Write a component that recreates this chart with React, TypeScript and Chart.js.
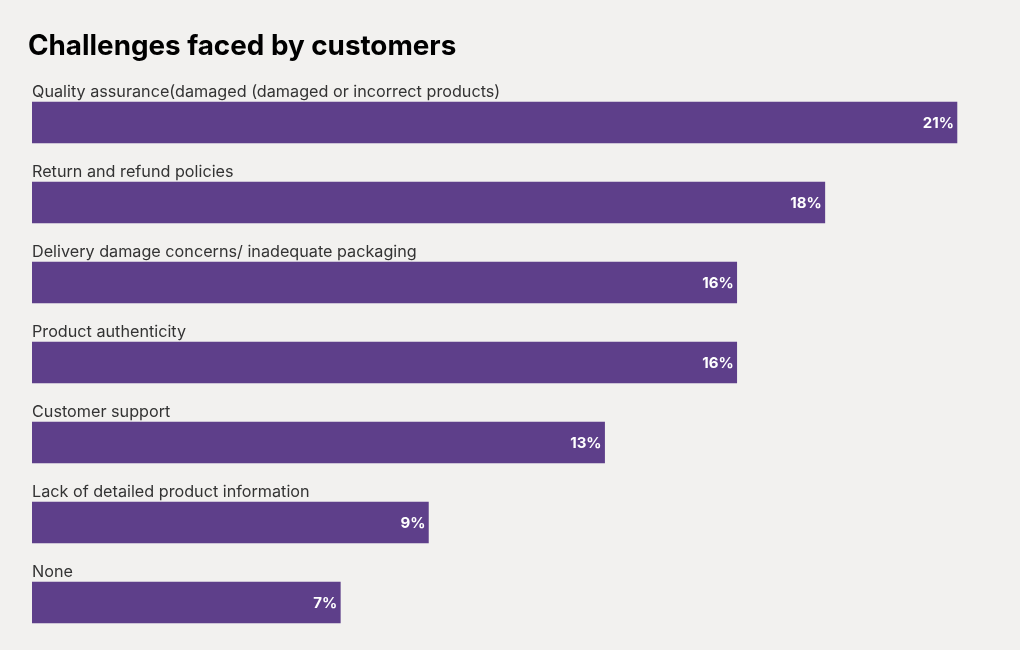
import React, { useEffect, useRef } from "react";
import { Chart, registerables } from "chart.js";

Chart.register(...registerables);

const TITLE = "Challenges faced by customers";
const categories = [
  "Quality assurance(damaged (damaged or incorrect products)",
  "Return and refund policies",
  "Delivery damage concerns/ inadequate packaging",
  "Product authenticity",
  "Customer support",
  "Lack of detailed product information",
  "None",
];
const values = [21, 18, 16, 16, 13, 9, 7];

const BG = "#f2f1ef";
const PURPLE = "#5e3f8a";

export default function App() {
  const ref = useRef<HTMLCanvasElement | null>(null);
  useEffect(() => {
    document.body.style.margin = "0";
    document.body.style.background = BG;
    const canvas = ref.current!;
    const labelPlugin = {
      id: "labels",
      afterDatasetsDraw(chart: any) {
        const ctx = chart.ctx;
        const meta = chart.getDatasetMeta(0);
        ctx.save();
        ctx.fillStyle = "#000";
        ctx.font = "bold 27.8px Inter";
        ctx.textBaseline = "alphabetic";
        ctx.textAlign = "left";
        ctx.fillText(TITLE, 28, 55);
        meta.data.forEach((bar: any, i: number) => {
          const top = bar.y - bar.height / 2;
          ctx.fillStyle = "#333333";
          ctx.font = "16.2px Inter";
          ctx.textAlign = "left";
          ctx.textBaseline = "alphabetic";
          ctx.fillText(categories[i], bar.base, top - 5);
          ctx.fillStyle = "#ffffff";
          ctx.font = "bold 15px Inter";
          ctx.textAlign = "right";
          ctx.textBaseline = "middle";
          ctx.fillText(values[i] + "%", bar.x - 3, bar.y + 1);
        });
        ctx.restore();
      },
    };
    const chart = new Chart(canvas, {
      type: "bar",
      data: {
        labels: categories,
        datasets: [
          {
            data: values,
            backgroundColor: PURPLE,
            barThickness: 41,
            borderWidth: 0,
          },
        ],
      },
      options: {
        indexAxis: "y",
        animation: false,
        responsive: false,
        maintainAspectRatio: false,
        layout: { padding: { left: 32, right: 19, top: 82.5, bottom: 7.5 } },
        plugins: { legend: { display: false }, tooltip: { enabled: false }, title: { display: false } },
        scales: {
          x: { display: false, min: 0, max: 22 },
          y: { display: false },
        },
      },
      plugins: [labelPlugin],
    });
    return () => chart.destroy();
  }, []);
  return (
    <div style={{ width: 1020, height: 650, background: BG }}>
      <canvas ref={ref} width={1020} height={650} style={{ display: "block" }} />
    </div>
  );
}
